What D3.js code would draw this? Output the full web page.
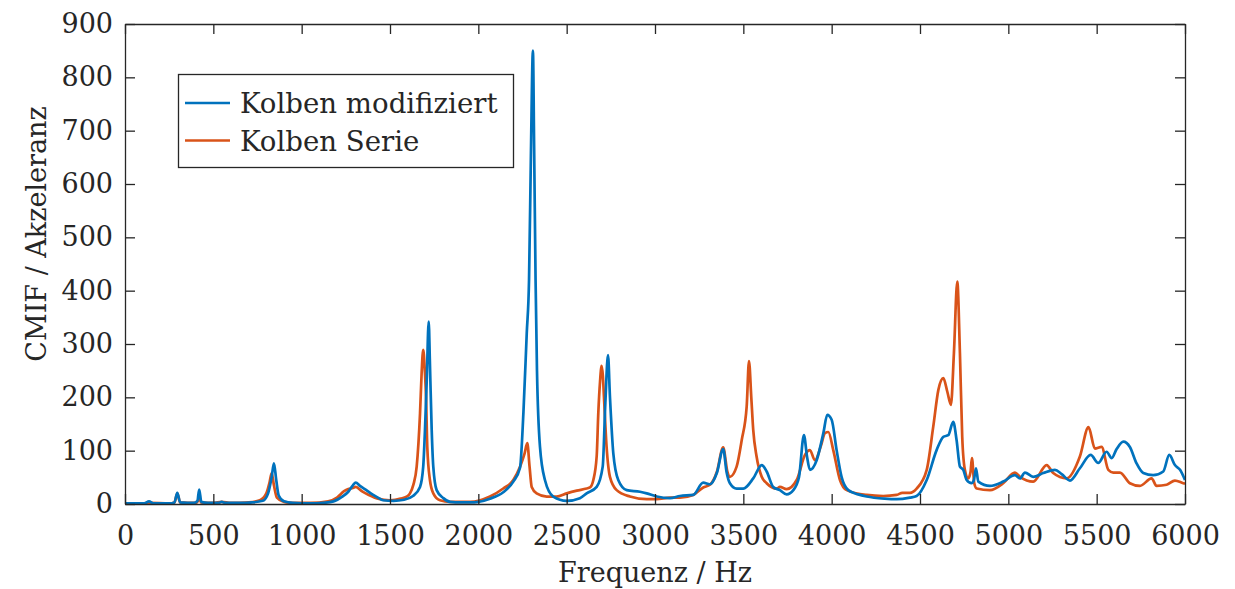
<!DOCTYPE html>
<html>
<head>
<meta charset="utf-8">
<script src="https://cdn.jsdelivr.net/npm/d3@7"></script>
<style>
  body { margin: 0; background: #fff; }
  svg text { font-family: "DejaVu Serif", serif; fill: #262626; }
</style>
</head>
<body>
<div id="chart"></div>
<script>
var freqModifiziert = [0, 60, 110, 136, 160, 250, 280, 296, 312, 390, 410, 420, 432, 470, 530, 547, 570, 650, 720, 780,
  810, 830, 843, 856, 870, 900, 950, 1050, 1120, 1180, 1230, 1264, 1290, 1306, 1330, 1366, 1400, 1432, 1460, 1520,
  1580, 1630, 1670, 1688, 1698, 1708, 1719, 1726, 1736, 1745, 1764, 1802, 1840, 1900, 1953, 2000, 2066, 2141, 2198, 2236,
  2255, 2274, 2287, 2298, 2309, 2316, 2324, 2332, 2349, 2377, 2424, 2500, 2575, 2613, 2670, 2704, 2719, 2734, 2745, 2764,
  2792, 2840, 2915, 2953, 3010, 3085, 3141, 3216, 3273, 3311, 3350, 3386, 3405, 3424, 3462, 3500, 3556, 3604, 3632, 3669,
  3707, 3745, 3783, 3815, 3843, 3860, 3877, 3915, 3953, 3975, 4000, 4028, 4056, 4094, 4150, 4198, 4300, 4368, 4443, 4481,
  4538, 4594, 4632, 4660, 4688, 4707, 4726, 4745, 4764, 4792, 4805, 4817, 4830, 4896, 4971, 5037, 5066, 5094, 5141, 5198,
  5264, 5302, 5349, 5405, 5466, 5509, 5556, 5585, 5613, 5651, 5688, 5726, 5764, 5820, 5877, 5911, 5943, 5972, 6000];
var cmifModifiziert = [1, 1, 1, 5, 1, 1, 3, 21, 3, 2, 6, 27, 4, 2, 2, 4, 2, 2, 3, 6,
  20, 50, 76, 45, 16, 5, 2, 1, 2, 5, 14, 23, 35, 40, 34, 26, 18, 12, 7, 6,
  8, 15, 32, 70, 139, 232, 342, 264, 139, 70, 26, 11, 4, 3, 3, 4, 10, 22, 42, 68,
  170, 320, 420, 664, 850, 664, 420, 250, 107, 45, 14, 6, 11, 20, 32, 70, 190, 279, 201, 95,
  45, 26, 23, 20, 14, 11, 15, 17, 40, 37, 58, 103, 60, 39, 29, 29, 48, 73, 61, 32,
  26, 18, 26, 50, 129, 90, 64, 82, 133, 167, 158, 101, 51, 26, 18, 14, 10, 9, 12, 15,
  45, 101, 126, 129, 154, 120, 70, 64, 45, 39, 45, 67, 42, 34, 42, 54, 48, 59, 51, 58,
  64, 56, 44, 67, 92, 77, 98, 86, 103, 117, 107, 76, 58, 54, 61, 92, 73, 64, 45];

var freqSerie = [0, 100, 140, 250, 280, 296, 312, 400, 412, 420, 430, 500, 547, 600, 700, 763, 800, 818, 830, 843,
  860, 900, 950, 1050, 1150, 1200, 1240, 1264, 1290, 1306, 1340, 1380, 1432, 1500, 1560, 1600, 1613, 1632, 1651, 1670,
  1679, 1688, 1697, 1704, 1711, 1726, 1745, 1783, 1840, 1953, 2066, 2141, 2198, 2236, 2262, 2277, 2290, 2302, 2330, 2387,
  2443, 2500, 2557, 2613, 2632, 2651, 2670, 2679, 2689, 2698, 2705, 2711, 2726, 2745, 2783, 2858, 2953, 3009, 3085, 3141,
  3216, 3273, 3311, 3350, 3386, 3410, 3424, 3462, 3491, 3519, 3532, 3545, 3556, 3575, 3604, 3632, 3689, 3707, 3745, 3802,
  3849, 3877, 3905, 3940, 3962, 3981, 4009, 4047, 4085, 4198, 4292, 4368, 4400, 4443, 4481, 4538, 4575, 4604, 4632, 4655,
  4675, 4692, 4711, 4726, 4739, 4754, 4773, 4786, 4794, 4807, 4821, 4896, 4971, 5037, 5066, 5141, 5217, 5254, 5330, 5405,
  5454, 5490, 5528, 5566, 5594, 5632, 5688, 5745, 5811, 5839, 5896, 5943, 5990, 6000];
var cmifSerie = [1, 1, 2, 1, 3, 20, 3, 2, 5, 15, 3, 2, 4, 2, 3, 7, 20, 40, 58, 35,
  12, 4, 2, 2, 5, 12, 24, 28, 30, 32, 24, 17, 10, 7, 10, 15, 20, 36, 70, 170,
  245, 289, 250, 201, 107, 45, 20, 7, 4, 4, 14, 29, 45, 70, 95, 114, 70, 32, 20, 14,
  14, 20, 25, 29, 31, 45, 90, 170, 230, 259, 240, 201, 107, 51, 26, 14, 9, 9, 12, 12,
  17, 31, 36, 60, 106, 60, 51, 70, 120, 183, 268, 200, 139, 89, 51, 39, 29, 32, 28, 45,
  92, 101, 82, 110, 133, 135, 101, 45, 26, 17, 15, 17, 21, 21, 29, 64, 145, 214, 236, 210,
  186, 283, 417, 283, 126, 64, 48, 60, 86, 39, 29, 26, 39, 59, 51, 42, 73, 58, 48, 89,
  144, 104, 107, 64, 59, 59, 39, 34, 48, 34, 36, 44, 39, 38];

var xTicks = [0, 500, 1000, 1500, 2000, 2500, 3000, 3500, 4000, 4500, 5000, 5500, 6000];
var yTicks = [0, 100, 200, 300, 400, 500, 600, 700, 800, 900];
var seriesNames = ['Kolben modifiziert', 'Kolben Serie'];
var seriesColors = ['#0072BD', '#D95319'];

var W = 1235, H = 589;
var margin = {top: 24, right: 50, bottom: 85, left: 125};
var width = W - margin.left - margin.right,
    height = H - margin.top - margin.bottom;

var svg = d3.select('#chart')
  .append('svg')
  .attr('width', W)
  .attr('height', H)
  .append('g')
  .attr('transform', 'translate(' + margin.left + ',' + margin.top + ')');

var x = d3.scaleLinear().domain([0, 6000]).range([0, width]);
var y = d3.scaleLinear().domain([0, 900]).range([height, 0]);

var toPoints = function(fr, vals){
  return fr.map(function(f, i){ return {f: f, v: vals[i]}; });
};
var series = [toPoints(freqModifiziert, cmifModifiziert), toPoints(freqSerie, cmifSerie)];

var line = d3.line()
  .x(function(d){ return x(d.f); })
  .y(function(d){ return y(d.v); })
  .curve(d3.curveMonotoneX);

svg.append('defs').append('clipPath').attr('id', 'plotclip')
  .append('rect').attr('x', 0).attr('y', 0).attr('width', width).attr('height', height);

svg.append('g').attr('clip-path', 'url(#plotclip)')
  .selectAll('path.curve')
  .data([1, 0])
  .enter()
  .append('path')
  .attr('class', 'curve')
  .attr('d', function(i){ return line(series[i]); })
  .attr('fill', 'none')
  .attr('stroke', function(i){ return seriesColors[i]; })
  .attr('stroke-width', 2.7)
  .attr('stroke-linejoin', 'round');

// Achsen mit Ticks nach innen
var tickLen = 10;
var axisColor = '#262626';
var fmt = d3.format('d');

var xb = svg.append('g').attr('transform', 'translate(0,' + height + ')')
  .call(d3.axisBottom(x).tickValues(xTicks).tickFormat(fmt).tickSizeInner(-tickLen).tickSizeOuter(0).tickPadding(22));
var xt = svg.append('g')
  .call(d3.axisTop(x).tickValues(xTicks).tickSizeInner(-tickLen).tickSizeOuter(0).tickFormat(''));
var yl = svg.append('g')
  .call(d3.axisLeft(y).tickValues(yTicks).tickFormat(fmt).tickSizeInner(-tickLen).tickSizeOuter(0).tickPadding(12));
var yr = svg.append('g').attr('transform', 'translate(' + width + ',0)')
  .call(d3.axisRight(y).tickValues(yTicks).tickSizeInner(-tickLen).tickSizeOuter(0).tickFormat(''));

[xb, xt, yl, yr].forEach(function(g){
  g.select('.domain').attr('stroke', axisColor).attr('stroke-width', 1.3);
  g.selectAll('.tick line').attr('stroke', axisColor).attr('stroke-width', 1.3);
  g.selectAll('text')
    .style('font-family', '"DejaVu Serif", serif')
    .style('font-size', '27px')
    .attr('fill', axisColor);
});

svg.append('text')
  .attr('x', width / 2)
  .attr('y', height + 78)
  .attr('text-anchor', 'middle')
  .style('font-size', '27px')
  .text('Frequenz / Hz');

svg.append('text')
  .attr('transform', 'rotate(-90)')
  .attr('x', -(height / 2) + 30)
  .attr('y', -margin.left + 46)
  .attr('text-anchor', 'middle')
  .style('font-size', '27px')
  .text('CMIF / Akzeleranz');

// Legende
var legend = svg.append('g')
  .attr('transform', 'translate(' + (178 - margin.left) + ',' + (74 - margin.top) + ')');

legend.append('rect')
  .attr('x', 0.5)
  .attr('y', 0.5)
  .attr('width', 335)
  .attr('height', 93)
  .attr('fill', '#fff')
  .attr('stroke', axisColor)
  .attr('stroke-width', 1.3);

var lg = legend.selectAll('g.item')
  .data(seriesNames)
  .enter()
  .append('g')
  .attr('class', 'item')
  .attr('transform', function(d, i){ return 'translate(0,' + (29 + i * 37.5) + ')'; });

lg.append('line')
  .attr('x1', 7)
  .attr('x2', 52)
  .attr('y1', 0)
  .attr('y2', 0)
  .attr('stroke', function(d, i){ return seriesColors[i]; })
  .attr('stroke-width', 2.7);

lg.append('text')
  .attr('x', 62)
  .attr('y', 10)
  .style('font-size', '27.6px')
  .text(function(d){ return d; });
</script>
</body>
</html>
